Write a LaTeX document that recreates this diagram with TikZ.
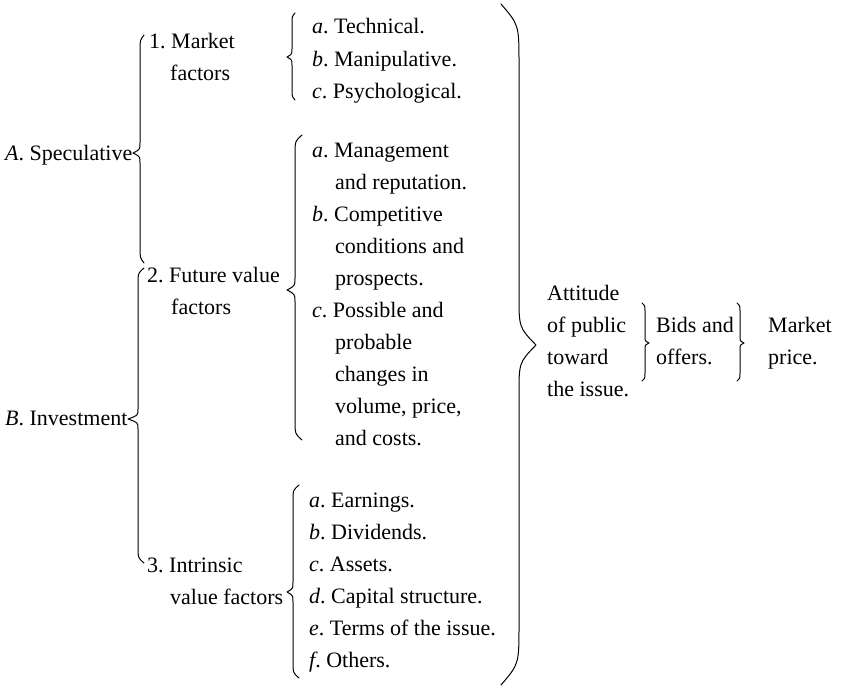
\documentclass[tikz,border=0pt]{standalone}
\usepackage{fontspec}
\setmainfont{Liberation Serif}
\tikzset{
  txt/.style={anchor=base west, inner sep=0pt, font=\fontsize{22}{32}\selectfont\frenchspacing},
  brc/.style={line width=1pt, line cap=round, line join=round}
}
% #1 line x, #2 top y, #3 bottom y, #4 tip y, #5 tip x, #6 hook x, #7 end curve length, #8 tip curve length
\newcommand{\BraceShape}[8]{%
  \draw[brc] (#6,#2) .. controls (#1,{#2+0.35*#7}) .. (#1,{#2+#7})
    -- (#1,{#4-#8}) .. controls (#1,{#4-0.35*#8}) .. (#5,#4)
    .. controls (#1,{#4+0.35*#8}) .. (#1,{#4+#8})
    -- (#1,{#3-#7}) .. controls (#1,{#3-0.35*#7}) .. (#6,#3);}
\begin{document}
\begin{tikzpicture}[x=1pt,y=-1pt]
\useasboundingbox (0,0) rectangle (841,688);

% left column
\node[txt] (spec) at (5,160) {\textit{A}. Speculative};
\node[txt] (inv) at (5,425) {\textit{B}. Investment};

% second column
\node[txt] (m1) at (149,48) {1. Market};
\node[txt] (m2) at (170,80) {factors};
\node[txt] (f1) at (147,282) {2. Future value};
\node[txt] (f2) at (171,314) {factors};
\node[txt] (i1) at (147,572) {3. Intrinsic};
\node[txt] (i2) at (170,604) {value factors};

% market factors items
\node[txt] (ma) at (312,34) {\textit{a}. Technical.};
\node[txt] (mb) at (312,66) {\textit{b}. Manipulative.};
\node[txt] (mc) at (312,98) {\textit{c}. Psychological.};

% future value items
\node[txt] (fa1) at (312,157) {\textit{a}. Management};
\node[txt] (fa2) at (335,189) {and reputation.};
\node[txt] (fb1) at (312,221) {\textit{b}. Competitive};
\node[txt] (fb2) at (335,253) {conditions and};
\node[txt] (fb3) at (335,285) {prospects.};
\node[txt] (fc1) at (312,317) {\textit{c}. Possible and};
\node[txt] (fc2) at (335,349) {probable};
\node[txt] (fc3) at (335,381) {changes in};
\node[txt] (fc4) at (335,413) {volume, price,};
\node[txt] (fc5) at (335,445) {and costs.};

% intrinsic items
\node[txt] (ia) at (309,507) {\textit{a}. Earnings.};
\node[txt] (ib) at (309,539) {\textit{b}. Dividends.};
\node[txt] (ic) at (309,571) {\textit{c}. Assets.};
\node[txt] (id) at (309,603) {\textit{d}. Capital structure.};
\node[txt] (ie) at (309,635) {\textit{e}. Terms of the issue.};
\node[txt] (if) at (309,667) {\textit{f}. Others.};

% right part
\node[txt] (at1) at (547,300) {Attitude};
\node[txt] (at2) at (547,332) {of public};
\node[txt] (at3) at (547,364) {toward};
\node[txt] (at4) at (547,396) {the issue.};
\node[txt] (bo1) at (656,332) {Bids and};
\node[txt] (bo2) at (656,364) {offers.};
\node[txt] (mp1) at (768,332) {Market};
\node[txt] (mp2) at (768,364) {price.};

% braces
\BraceShape{140}{35}{263}{153}{133}{144}{15}{10}
\BraceShape{138}{268}{563}{419}{128}{144}{15}{10}
\BraceShape{292}{13}{100}{57}{287}{295}{10}{8}
\BraceShape{295}{135}{440}{290}{287}{302}{18}{12}
\BraceShape{293}{485}{678}{592}{287}{299}{15}{10}
\BraceShape{519}{4}{685}{345}{536}{501}{60}{50}
\BraceShape{645}{303}{381}{343}{649}{642}{8}{6}
\BraceShape{740}{303}{381}{343}{744}{737}{8}{6}
\end{tikzpicture}
\end{document}
